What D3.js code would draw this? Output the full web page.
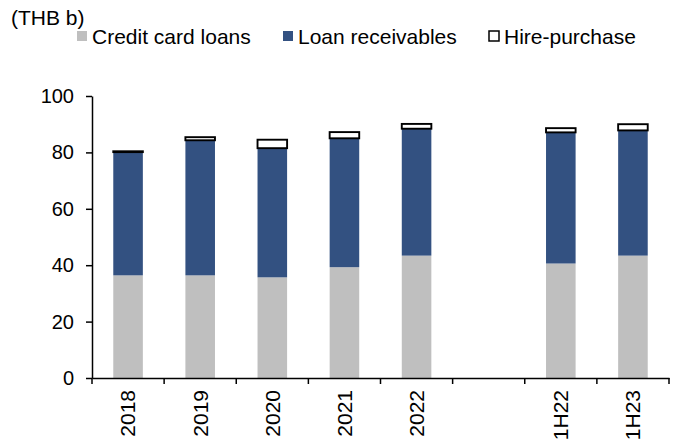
<!DOCTYPE html>
<html>
<head>
<meta charset="utf-8">
<script src="https://cdn.jsdelivr.net/npm/d3@7"></script>
<style>
  html, body { margin: 0; padding: 0; background: #fff; }
  svg { display: block; font-family: "Liberation Sans", Arial, sans-serif; }
</style>
</head>
<body>
<div id="chart"></div>
<script>
// ---- Data ----
const categories = ["2018", "2019", "2020", "2021", "2022", "", "1H22", "1H23"];
const creditCard = [36.4, 36.4, 35.7, 39.3, 43.4, null, 40.6, 43.4];
const loanReceivables = [43.7, 47.9, 45.8, 45.7, 45.0, null, 46.5, 44.4];
const hirePurchase = [0.3, 1.1, 3.0, 2.2, 1.7, null, 1.5, 2.2];
const seriesNames = ["Credit card loans", "Loan receivables", "Hire-purchase"];
const yTicks = [0, 20, 40, 60, 80, 100];
const unitLabel = "(THB b)";

// ---- Layout ----
const W = 677, H = 439;
const plot = { left: 92, right: 669, top: 96, bottom: 378 };
const colors = ["#bfbfbf", "#335181", "#ffffff"];

const svg = d3.select("#chart").append("svg").attr("width", W).attr("height", H);

const x = d3.scaleBand().domain(categories).range([plot.left, plot.right]).padding(0);
const y = d3.scaleLinear().domain([0, 100]).range([plot.bottom, plot.top]);
const barFrac = 0.41;
const bw = x.bandwidth() * barFrac;
const bx = c => x(c) + (x.bandwidth() - bw) / 2;

// stacked data
const rows = categories.map((c, i) => ({ cat: c, cc: creditCard[i], lr: loanReceivables[i], hp: hirePurchase[i] }))
  .filter(d => d.cc != null);
const stack = d3.stack().keys(["cc", "lr", "hp"])(rows);

stack.forEach((layer, li) => {
  svg.append("g").selectAll("rect").data(layer).join("rect")
    .attr("x", d => bx(d.data.cat))
    .attr("width", bw)
    .attr("y", d => y(d[1]))
    .attr("height", d => y(d[0]) - y(d[1]))
    .attr("fill", colors[li])
    .attr("stroke", li === 2 ? "#000" : "none")
    .attr("stroke-width", li === 2 ? 1.9 : 0);
});

// Y axis
const yAxis = d3.axisLeft(y).tickValues(yTicks).tickSize(6).tickPadding(12).tickSizeOuter(0);
const gy = svg.append("g").attr("transform", `translate(${plot.left},0)`).call(yAxis);
gy.select(".domain").attr("stroke", "#000").attr("stroke-width", 1.5);
gy.selectAll(".tick line").attr("stroke", "#000").attr("stroke-width", 1.5);
gy.selectAll("text").attr("font-size", 20).attr("fill", "#000")
  .attr("font-family", "Liberation Sans, Arial, sans-serif");

// X axis (labels at band centers, ticks at band boundaries)
const xAxis = d3.axisBottom(x).tickSize(0).tickPadding(0).tickSizeOuter(0);
const gx = svg.append("g").attr("transform", `translate(0,${plot.bottom})`).call(xAxis);
gx.select(".domain").attr("stroke", "#000").attr("stroke-width", 1.5);
gx.selectAll(".tick text")
  .attr("font-size", 21).attr("fill", "#000")
  .attr("font-family", "Liberation Sans, Arial, sans-serif")
  .attr("text-anchor", "end")
  .attr("dy", "0.35em")
  .attr("transform", "translate(0,12) rotate(-90)")
  .attr("x", 0).attr("y", 0);
const boundaries = categories.map(c => x(c)).concat([x(categories[categories.length - 1]) + x.bandwidth()]);
gx.append("g").selectAll("line").data(boundaries).join("line")
  .attr("x1", d => d).attr("x2", d => d).attr("y1", 0).attr("y2", 6)
  .attr("stroke", "#000").attr("stroke-width", 1.5);

// Unit label
svg.append("text").attr("x", 11).attr("y", 25).attr("font-size", 21).text(unitLabel);

// Legend
const legendX = [77, 283, 489];
const lg = svg.append("g");
seriesNames.forEach((n, i) => {
  lg.append("rect").attr("x", legendX[i]).attr("y", 31).attr("width", 10).attr("height", 10)
    .attr("fill", colors[i])
    .attr("stroke", i === 2 ? "#000" : "none").attr("stroke-width", i === 2 ? 1.5 : 0);
  lg.append("text").attr("x", legendX[i] + 15).attr("y", 43.5).attr("font-size", 21).text(n);
});
</script>
</body>
</html>
